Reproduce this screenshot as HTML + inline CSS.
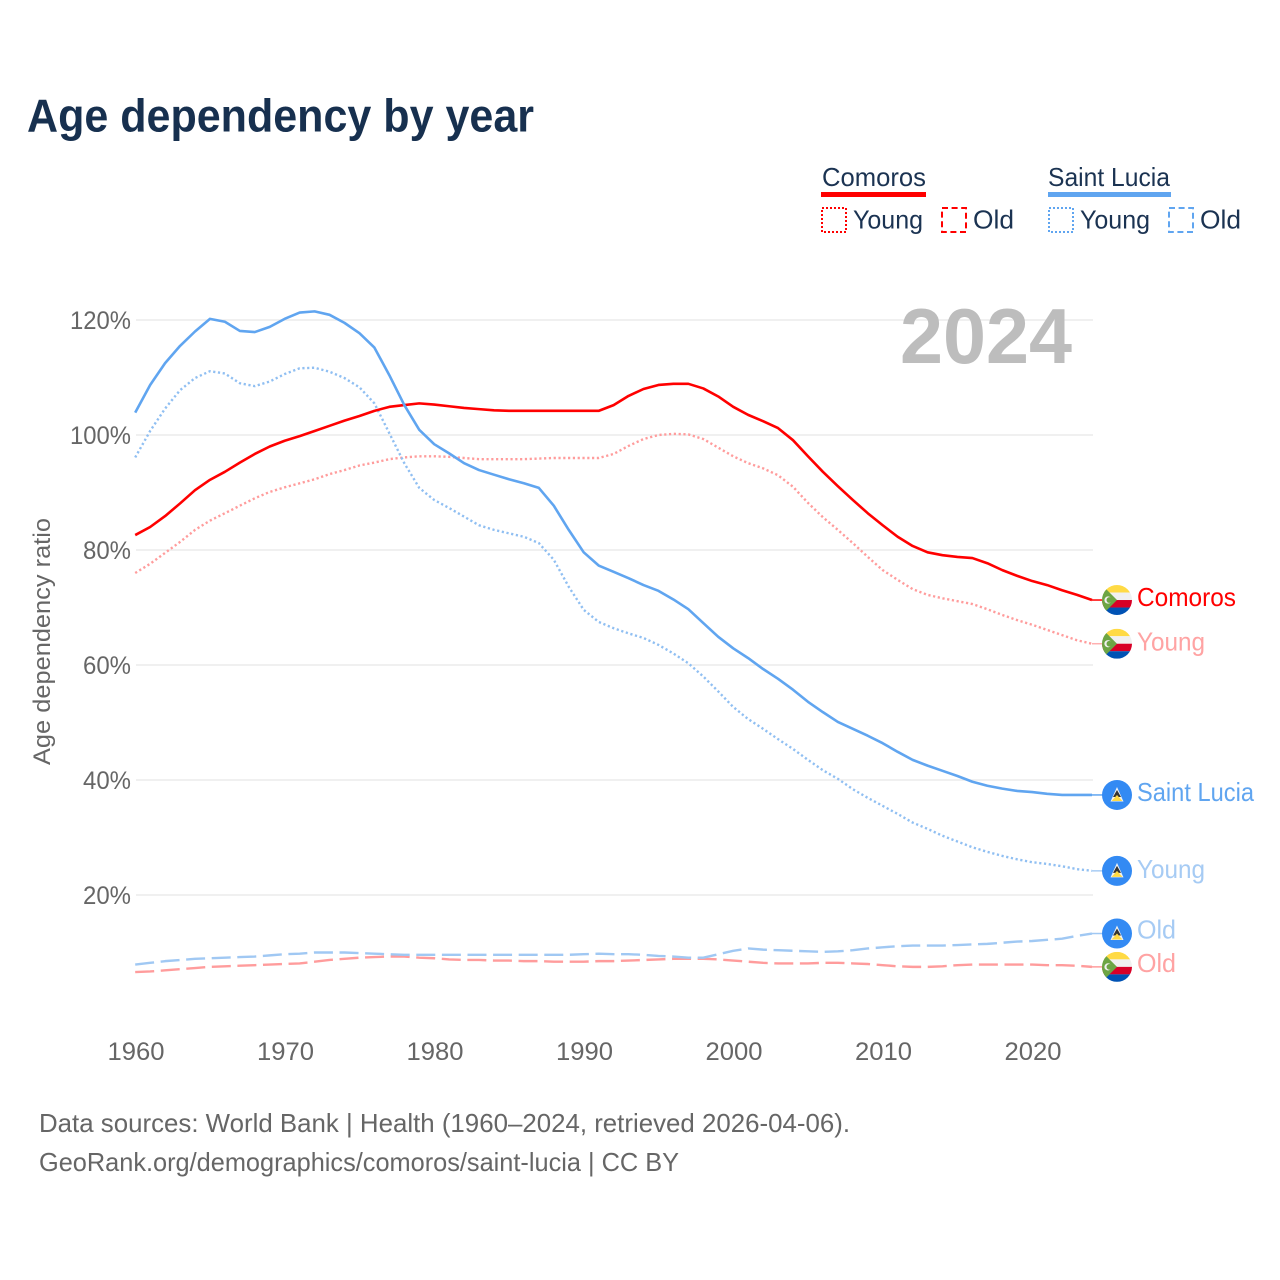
<!DOCTYPE html>
<html lang="en">
<head>
<meta charset="utf-8">
<title>Age dependency by year</title>
<style>
  html, body { margin: 0; padding: 0; background: #ffffff; }
  svg { display: block; font-family: "Liberation Sans", "DejaVu Sans", sans-serif; }
</style>
</head>
<body>
<svg id="chart" xmlns="http://www.w3.org/2000/svg" width="1280" height="1280" viewBox="0 0 1280 1280">
  <rect x="0" y="0" width="1280" height="1280" fill="#ffffff"/>
  <text x="27" y="131.5" font-size="46" font-weight="700" fill="#17304f" textLength="507" lengthAdjust="spacingAndGlyphs">Age dependency by year</text>

  <g font-size="26" fill="#1b3352">
    <text x="822" y="186" textLength="104" lengthAdjust="spacingAndGlyphs">Comoros</text>
    <rect x="821" y="192" width="105" height="5" fill="#ff0000"/>
    <rect x="822" y="208" width="24" height="24" fill="none" stroke="#ff0000" stroke-width="2" stroke-dasharray="2 2"/>
    <text x="853" y="228.5" textLength="70" lengthAdjust="spacingAndGlyphs">Young</text>
    <rect x="942" y="208" width="24" height="24" fill="none" stroke="#ff0000" stroke-width="2" stroke-dasharray="6 3.6"/>
    <text x="973" y="228.5" textLength="41" lengthAdjust="spacingAndGlyphs">Old</text>

    <text x="1048" y="186" textLength="122" lengthAdjust="spacingAndGlyphs">Saint Lucia</text>
    <rect x="1048" y="192" width="123" height="5" fill="#60a5f0"/>
    <rect x="1049" y="208" width="24" height="24" fill="none" stroke="#60a5f0" stroke-width="2" stroke-dasharray="2 2"/>
    <text x="1080" y="228.5" textLength="70" lengthAdjust="spacingAndGlyphs">Young</text>
    <rect x="1169" y="208" width="24" height="24" fill="none" stroke="#60a5f0" stroke-width="2" stroke-dasharray="6 3.6"/>
    <text x="1200" y="228.5" textLength="41" lengthAdjust="spacingAndGlyphs">Old</text>
  </g>

  <g id="grid"></g>
  <g id="yticks" font-size="25" fill="#666666"></g>
  <g id="xticks" font-size="25" fill="#666666"></g>
  <text transform="translate(50 641.5) rotate(-90)" text-anchor="middle" font-size="24.5" fill="#666666" textLength="247" lengthAdjust="spacingAndGlyphs">Age dependency ratio</text>

  <text x="900" y="363" font-size="78" font-weight="700" fill="#bdbdbd" textLength="172" lengthAdjust="spacingAndGlyphs">2024</text>

  <g id="series" fill="none" stroke-linejoin="round"></g>
  <g id="endmarks" font-size="26"></g>

  <g font-size="26" fill="#666666">
    <text x="39" y="1132" textLength="811" lengthAdjust="spacingAndGlyphs">Data sources: World Bank | Health (1960–2024, retrieved 2026-04-06).</text>
    <text x="39" y="1171" textLength="640" lengthAdjust="spacingAndGlyphs">GeoRank.org/demographics/comoros/saint-lucia | CC BY</text>
  </g>
</svg>

<script>
const years = [1960,1961,1962,1963,1964,1965,1966,1967,1968,1969,
  1970,1971,1972,1973,1974,1975,1976,1977,1978,1979,
  1980,1981,1982,1983,1984,1985,1986,1987,1988,1989,
  1990,1991,1992,1993,1994,1995,1996,1997,1998,1999,
  2000,2001,2002,2003,2004,2005,2006,2007,2008,2009,
  2010,2011,2012,2013,2014,2015,2016,2017,2018,2019,
  2020,2021,2022,2023,2024];

const comorosTotal = [82.6,84.0,85.9,88.1,90.4,92.2,93.6,95.2,96.7,98.0,
  99.0,99.8,100.7,101.6,102.5,103.3,104.2,104.9,105.2,105.5,
  105.3,105.0,104.7,104.5,104.3,104.2,104.2,104.2,104.2,104.2,
  104.2,104.2,105.2,106.8,108.0,108.7,108.9,108.9,108.1,106.7,
  104.9,103.5,102.4,101.2,99.1,96.3,93.6,91.1,88.7,86.4,
  84.3,82.3,80.7,79.6,79.1,78.8,78.6,77.7,76.5,75.5,
  74.6,73.9,73.0,72.2,71.3];

const comorosYoung = [76.0,77.6,79.5,81.4,83.5,85.1,86.4,87.7,89.0,90.1,
  90.9,91.6,92.3,93.2,93.9,94.7,95.2,95.8,96.1,96.3,
  96.3,96.2,96.0,95.8,95.8,95.8,95.8,95.9,96.0,96.0,
  96.0,96.0,96.7,98.1,99.3,100.0,100.2,100.1,99.3,97.8,
  96.3,95.1,94.2,93.0,91.0,88.2,85.7,83.5,81.2,78.8,
  76.5,74.8,73.2,72.2,71.6,71.1,70.6,69.7,68.7,67.8,
  67.0,66.1,65.2,64.3,63.7];

const comorosOld = [6.6,6.7,6.9,7.1,7.3,7.5,7.6,7.7,7.8,7.9,
  8.0,8.1,8.4,8.7,8.9,9.1,9.2,9.3,9.3,9.1,
  9.0,8.8,8.7,8.7,8.6,8.6,8.5,8.5,8.4,8.4,
  8.4,8.5,8.5,8.6,8.7,8.8,8.9,8.9,8.9,8.8,
  8.6,8.4,8.2,8.1,8.1,8.1,8.2,8.2,8.1,8.0,
  7.8,7.6,7.5,7.5,7.6,7.8,7.9,7.9,7.9,7.9,
  7.9,7.8,7.8,7.7,7.5];

const saintLuciaTotal = [103.9,108.7,112.5,115.5,118.0,120.2,119.7,118.1,117.9,118.8,
  120.2,121.3,121.5,120.9,119.5,117.7,115.2,110.4,105.2,100.9,
  98.4,96.8,95.1,93.9,93.1,92.3,91.6,90.8,87.7,83.5,
  79.6,77.3,76.2,75.1,73.9,72.9,71.4,69.7,67.3,64.9,
  62.9,61.2,59.3,57.6,55.7,53.6,51.8,50.1,48.9,47.7,
  46.4,44.9,43.5,42.5,41.6,40.7,39.7,39.0,38.5,38.1,
  37.9,37.6,37.4,37.4,37.4];

const saintLuciaYoung = [96.1,100.7,104.6,107.8,109.9,111.1,110.7,109.0,108.5,109.3,
  110.6,111.6,111.7,111.0,109.9,108.3,105.5,100.3,95.1,90.8,
  88.7,87.3,85.8,84.3,83.5,82.9,82.3,81.2,78.3,73.6,
  69.6,67.5,66.4,65.5,64.7,63.5,62.0,60.3,58.0,55.4,
  52.7,50.6,48.9,47.1,45.4,43.5,41.7,40.2,38.4,36.9,
  35.5,34.1,32.6,31.5,30.3,29.3,28.3,27.5,26.8,26.2,
  25.7,25.4,25.0,24.5,24.2];

const saintLuciaOld = [7.9,8.2,8.5,8.7,8.9,9.0,9.1,9.2,9.3,9.5,
  9.7,9.8,10.0,10.0,10.0,9.9,9.8,9.7,9.6,9.6,
  9.6,9.6,9.6,9.6,9.6,9.6,9.6,9.6,9.6,9.6,
  9.7,9.8,9.7,9.7,9.6,9.4,9.3,9.1,9.1,9.7,
  10.3,10.7,10.5,10.4,10.3,10.2,10.1,10.2,10.4,10.7,
  10.9,11.1,11.2,11.2,11.2,11.3,11.4,11.5,11.7,11.9,
  12.0,12.2,12.4,12.9,13.3];

const yTickValues = [20,40,60,80,100,120];
const yTickLabels = ["20%","40%","60%","80%","100%","120%"];
const xTickValues = [1960,1970,1980,1990,2000,2010,2020];
const xTickLabels = ["1960","1970","1980","1990","2000","2010","2020"];

const SVG_NS = "http://www.w3.org/2000/svg";
function xScale(year) { return 135.2 + (year - 1960) * 14.95; }
function yScale(value) { return 895 - (value - 20) * 5.75; }
function make(tag, attrs, parent) {
  const el = document.createElementNS(SVG_NS, tag);
  for (const key in attrs) { el.setAttribute(key, attrs[key]); }
  parent.appendChild(el);
  return el;
}

const gridGroup = document.getElementById("grid");
const yTickGroup = document.getElementById("yticks");
yTickValues.forEach(function (value, i) {
  const line = make("line", { x1: 136, x2: 1093, y1: yScale(value), y2: yScale(value), stroke: "#e8e8e8", "stroke-width": 1.3 }, gridGroup);
  
  
  const label = make("text", { x: 131, y: yScale(value) + 9, "text-anchor": "end", textLength: yTickLabels[i].length === 4 ? 61 : 48, lengthAdjust: "spacingAndGlyphs" }, yTickGroup);
  label.textContent = yTickLabels[i];
  
  
});

const xTickGroup = document.getElementById("xticks");
xTickValues.forEach(function (value, i) {
  const label = make("text", { x: xScale(value) + 0.8, y: 1060, "text-anchor": "middle", textLength: 57, lengthAdjust: "spacingAndGlyphs" }, xTickGroup);
  label.textContent = xTickLabels[i];
  
  
});

function linePath(values) {
  return values.map(function (v, i) {
    return (i ? "L" : "M") + xScale(years[i]).toFixed(2) + " " + yScale(v).toFixed(2);
  }).join("");
}

const seriesGroup = document.getElementById("series");

const lineComorosOld = make("path", { d: linePath(comorosOld), stroke: "#ff9c9c", "stroke-width": 2.4, "stroke-dasharray": "19 6.6" }, seriesGroup);



const lineComorosYoung = make("path", { d: linePath(comorosYoung), stroke: "#ff9c9c", "stroke-width": 2.4, "stroke-dasharray": "2.2 2.6" }, seriesGroup);



const lineLuciaOld = make("path", { d: linePath(saintLuciaOld), stroke: "#a0c8f3", "stroke-width": 2.4, "stroke-dasharray": "19 6.6" }, seriesGroup);



const lineLuciaYoung = make("path", { d: linePath(saintLuciaYoung), stroke: "#90bff2", "stroke-width": 2.4, "stroke-dasharray": "2.2 2.6" }, seriesGroup);



const lineComorosTotal = make("path", { d: linePath(comorosTotal), stroke: "#ff0000", "stroke-width": 2.6 }, seriesGroup);



const lineLuciaTotal = make("path", { d: linePath(saintLuciaTotal), stroke: "#60a5f0", "stroke-width": 2.6 }, seriesGroup);



const endGroup = document.getElementById("endmarks");
let clipCount = 0;

function drawComorosFlag(cy) {
  const g = make("g", {}, endGroup);
  
  
  const id = "flag-clip-" + (++clipCount);
  const clip = make("clipPath", { id: id }, g);
  make("circle", { cx: 1117, cy: cy, r: 15 }, clip);
  const f = make("g", { "clip-path": "url(#" + id + ")" }, g);
  make("rect", { x: 1102, y: cy - 15, width: 30, height: 7.5, fill: "#ffda44" }, f);
  make("rect", { x: 1102, y: cy - 7.5, width: 30, height: 7.5, fill: "#f0f0f0" }, f);
  make("rect", { x: 1102, y: cy, width: 30, height: 7.5, fill: "#d80027" }, f);
  make("rect", { x: 1102, y: cy + 7.5, width: 30, height: 7.5, fill: "#0052b4" }, f);
  make("path", { d: "M1102 " + (cy - 15) + "L1117 " + cy + "L1102 " + (cy + 15) + "Z", fill: "#6da544" }, f);
  make("circle", { cx: 1108, cy: cy, r: 3.6, fill: "#f0f0f0" }, f);
  make("circle", { cx: 1109.4, cy: cy, r: 2.9, fill: "#6da544" }, f);
}

function drawLuciaFlag(cy) {
  const g = make("g", {}, endGroup);
  
  
  make("circle", { cx: 1117, cy: cy, r: 15, fill: "#338af3" }, g);
  make("path", { d: "M1117 " + (cy - 8) + "L1123.5 " + (cy + 6.5) + "H1110.5Z", fill: "#f3f3f3" }, g);
  make("path", { d: "M1117 " + (cy - 5) + "L1121 " + (cy + 2) + "H1113Z", fill: "#333333" }, g);
  make("path", { d: "M1117 " + cy + "L1122.4 " + (cy + 6) + "H1111.6Z", fill: "#ffda44" }, g);
}

function drawConnector(values, color) {
  const y = yScale(values[values.length - 1]);
  return make("line", { x1: 1092, x2: 1103, y1: y, y2: y, stroke: color, "stroke-width": 1.5 }, endGroup);
}

function drawLabel(values, color, width, offset) {
  return make("text", { x: 1137, y: yScale(values[values.length - 1]) + offset, fill: color, textLength: width, lengthAdjust: "spacingAndGlyphs" }, endGroup);
}

const connComorosTotal = drawConnector(comorosTotal, "#ff0000");


const connComorosYoung = drawConnector(comorosYoung, "#ffb0b0");


const connComorosOld = drawConnector(comorosOld, "#ff9c9c");


const connLuciaTotal = drawConnector(saintLuciaTotal, "#60a5f0");


const connLuciaYoung = drawConnector(saintLuciaYoung, "#a8ccf4");


const connLuciaOld = drawConnector(saintLuciaOld, "#a0c8f3");



drawComorosFlag(yScale(comorosTotal[64]));
drawComorosFlag(yScale(comorosYoung[64]));
drawLuciaFlag(yScale(saintLuciaTotal[64]));
drawLuciaFlag(yScale(saintLuciaYoung[64]));
drawLuciaFlag(yScale(saintLuciaOld[64]));
drawComorosFlag(yScale(comorosOld[64]));

const labelComorosTotal = drawLabel(comorosTotal, "#ff0000", 99, 6);
labelComorosTotal.textContent = "Comoros";



const labelComorosYoung = drawLabel(comorosYoung, "#ffa3a3", 68, 7);
labelComorosYoung.textContent = "Young";



const labelComorosOld = drawLabel(comorosOld, "#ffa3a3", 39, 5);
labelComorosOld.textContent = "Old";



const labelLuciaTotal = drawLabel(saintLuciaTotal, "#60a5f0", 117, 6);
labelLuciaTotal.textContent = "Saint Lucia";



const labelLuciaYoung = drawLabel(saintLuciaYoung, "#a6cbf4", 68, 7);
labelLuciaYoung.textContent = "Young";



const labelLuciaOld = drawLabel(saintLuciaOld, "#a6cbf4", 39, 5);
labelLuciaOld.textContent = "Old";


</script>
</body>
</html>
